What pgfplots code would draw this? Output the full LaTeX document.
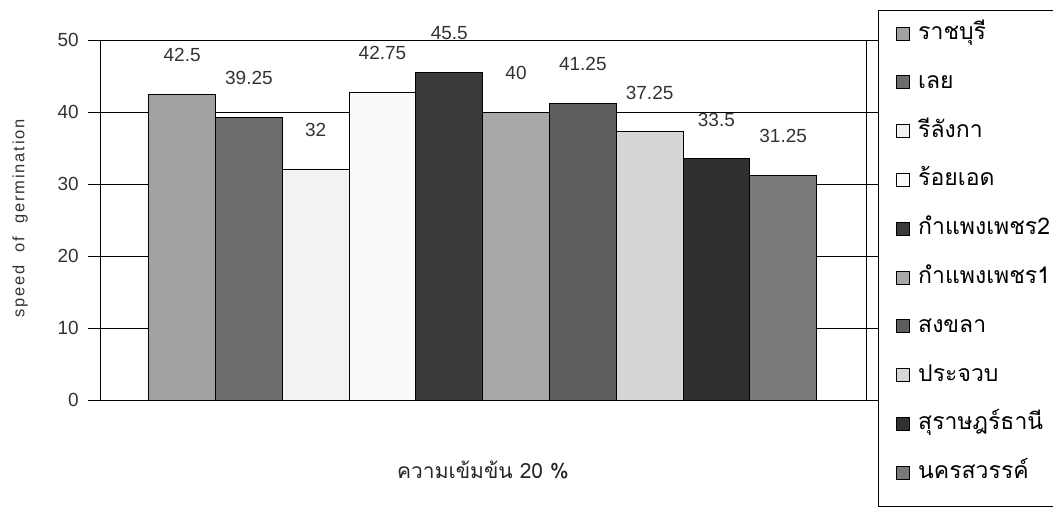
\documentclass[border=0pt]{standalone}
\usepackage{pgfplots}
\pgfplotsset{compat=1.18}
\usepackage{fontspec}
\setmainfont{Liberation Sans}
\newfontfamily\thaifont[Script=Thai]{Loma}
\newfontfamily\spacedfont[LetterSpace=11]{Liberation Sans}
\definecolor{c1}{HTML}{A2A2A2}
\definecolor{c2}{HTML}{6C6C6C}
\definecolor{c3}{HTML}{F2F2F2}
\definecolor{c4}{HTML}{FAFAFA}
\definecolor{c5}{HTML}{3A3A3A}
\definecolor{c6}{HTML}{A8A8A8}
\definecolor{c7}{HTML}{5E5E5E}
\definecolor{c8}{HTML}{D6D6D6}
\definecolor{c9}{HTML}{303030}
\definecolor{c10}{HTML}{7A7A7A}
\begin{document}
\begin{tikzpicture}[x=1bp,y=1bp]
\useasboundingbox (0,0) rectangle (1053,509);
\begin{axis}[
  at={(100bp,109bp)}, anchor=south west,
  scale only axis, width=766bp, height=360bp,
  xmin=-1.23, xmax=10.24, ymin=0, ymax=50,
  clip=false,
  ybar=0pt, bar width=1,
  ytick={0,10,20,30,40,50}, xtick=\empty,
  ymajorgrids, grid style={black, line width=0.9pt},
  axis line style={black, line width=0.9pt},
  tick style={black, line width=0.9pt},
  tick align=outside, major tick length=12bp,
  yticklabel style={font=\fontsize{19bp}{22bp}\selectfont, /pgf/number format/assume math mode=true, text=black!80, inner sep=9bp},
  ylabel={\spacedfont speed\ \ of\ \ germination},
  ylabel style={at={(axis description cs:-0.1044,0.505)}, anchor=center, rotate=0, font=\fontsize{16.5bp}{19bp}\selectfont, text=black!80},
  xlabel={\thaifont ความเข้มข้น 20 \%},
  xlabel style={at={(axis description cs:0.5,-0.194)}, anchor=center, font=\fontsize{21bp}{24bp}\selectfont, text=black!85},
  nodes near coords,
  every node near coord/.append style={font=\fontsize{19bp}{22bp}\selectfont, /pgf/number format/assume math mode=true, inner sep=0pt, yshift=32bp, text=black!80},
  legend style={at={(axis description cs:1.0157,1.0833)}, anchor=north west, draw=black, line width=0.9pt,
    font=\thaifont\fontsize{23bp}{26bp}\selectfont, inner xsep=18bp, inner ysep=4bp,
    nodes={inner sep=2bp, text height=23bp, text depth=21.8bp}, row sep=0bp},
  legend cell align=left,
  legend image code/.code={\draw[#1, draw=black, line width=0.6pt] (0bp,-1bp) rectangle (13bp,12bp); \path (19bp,0bp);},
]
\addplot[fill=c1, draw=black, line width=0.9pt, bar shift=0pt] coordinates {(0,42.5)};
\addplot[fill=c2, draw=black, line width=0.9pt, bar shift=0pt] coordinates {(1,39.25)};
\addplot[fill=c3, draw=black, line width=0.9pt, bar shift=0pt] coordinates {(2,32)};
\addplot[fill=c4, draw=black, line width=0.9pt, bar shift=0pt] coordinates {(3,42.75)};
\addplot[fill=c5, draw=black, line width=0.9pt, bar shift=0pt] coordinates {(4,45.5)};
\addplot[fill=c6, draw=black, line width=0.9pt, bar shift=0pt] coordinates {(5,40)};
\addplot[fill=c7, draw=black, line width=0.9pt, bar shift=0pt] coordinates {(6,41.25)};
\addplot[fill=c8, draw=black, line width=0.9pt, bar shift=0pt] coordinates {(7,37.25)};
\addplot[fill=c9, draw=black, line width=0.9pt, bar shift=0pt] coordinates {(8,33.5)};
\addplot[fill=c10, draw=black, line width=0.9pt, bar shift=0pt] coordinates {(9,31.25)};
\legend{ราชบุรี, เลย, รีลังกา, ร้อยเอด, กำแพงเพชร2, กำแพงเพชร1, สงขลา, ประจวบ, สุราษฎร์ธานี, นครสวรรค์}
\end{axis}
\end{tikzpicture}
\end{document}
